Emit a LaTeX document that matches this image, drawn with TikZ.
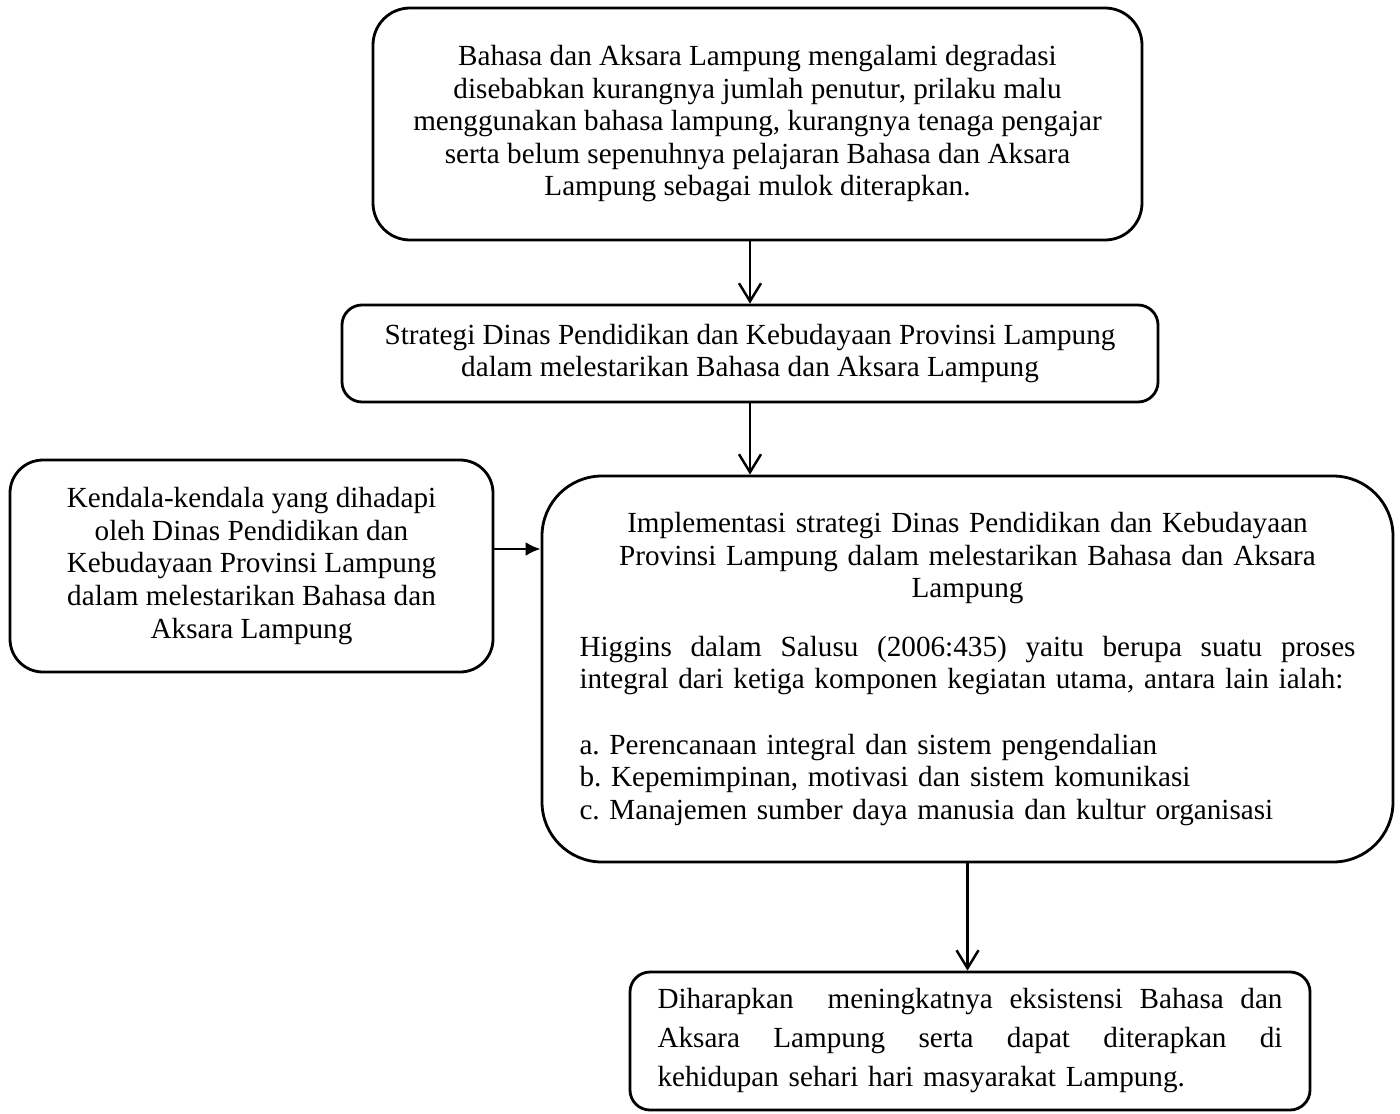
\documentclass[tikz,border=0pt]{standalone}
\usepackage{fontspec}
\setmainfont{Liberation Serif}
\usetikzlibrary{arrows.meta,positioning}

\begin{document}
\begin{tikzpicture}[font=\fontsize{8.3}{9.25}\selectfont\frenchspacing,
  box/.style={draw, line width=0.8pt, inner sep=0pt},
  flow/.style={-{Straight Barb[length=1.8mm,width=2.2mm]}, line width=0.7pt},
  feed/.style={-{Latex[length=1.5mm,width=1.4mm]}, line width=0.7pt}]
\useasboundingbox (0,0) rectangle (14,11.13);

% Problem statement
\node[box, align=center, rounded corners=3.7mm, minimum width=7.69cm, minimum height=2.32cm] (problem) at (7.575,9.89)
  {Bahasa dan Aksara Lampung mengalami degradasi\\ disebabkan kurangnya jumlah penutur, prilaku malu\\
   menggunakan bahasa lampung, kurangnya tenaga pengajar\\ serta belum sepenuhnya pelajaran Bahasa dan Aksara\\
   Lampung sebagai mulok diterapkan.};

% Strategy
\node[box, align=center, rounded corners=2mm, minimum width=8.16cm, minimum height=0.97cm] (strategy) at (7.50,7.595)
  {Strategi Dinas Pendidikan dan Kebudayaan Provinsi Lampung\\ dalam melestarikan Bahasa dan Aksara Lampung};

% Obstacles
\node[box, align=center, rounded corners=3.3mm, minimum width=4.83cm, minimum height=2.12cm] (obstacle) at (2.515,5.47)
  {Kendala-kendala yang dihadapi\\ oleh Dinas Pendidikan dan\\ Kebudayaan Provinsi Lampung\\
   dalam melestarikan Bahasa dan\\ Aksara Lampung};

% Implementation
\node[box, rounded corners=6mm, minimum width=8.51cm, minimum height=3.86cm, text width=7.76cm] (implement) at (9.675,4.44)
  {\parindent=0pt
   {\centering Implementasi strategi Dinas Pendidikan dan Kebudayaan\\ Provinsi Lampung dalam melestarikan Bahasa dan Aksara\\ Lampung\par}
   \vspace{2.6mm}
   \hbox to 7.76cm{Higgins\hfill dalam\hfill Salusu\hfill (2006:435)\hfill yaitu\hfill berupa\hfill suatu\hfill proses}
   integral dari ketiga komponen kegiatan utama, antara lain ialah:\par
   \vspace{3.3mm}
   a. Perencanaan integral dan sistem pengendalian\\
   b. Kepemimpinan, motivasi dan sistem komunikasi\\
   c. Manajemen sumber daya manusia dan kultur organisasi\par};

% Expected outcome
\node[box, rounded corners=2mm, minimum width=6.80cm, minimum height=1.38cm, text width=6.25cm] (outcome) at (9.70,0.72)
  {\fontsize{8.3}{11.1}\selectfont\parindent=0pt
   \hbox to 6.25cm{Diharapkan\hspace{0.6em}\hfill meningkatnya\hfill eksistensi\hfill Bahasa\hfill dan}
   \hbox to 6.25cm{Aksara\hfill Lampung\hfill serta\hfill dapat\hfill diterapkan\hfill di}
   kehidupan sehari hari masyarakat Lampung.\par};

% Connectors
\draw[flow] (problem.south -| strategy.north) -- (strategy.north);
\draw[flow] (strategy.south) -- (strategy.south |- implement.north);
\draw[flow] (implement.south) -- (implement.south |- outcome.north);
\draw[feed] ([yshift=1.7mm]obstacle.east) -- ([yshift=1.7mm]obstacle.east -| implement.west);

\end{tikzpicture}
\end{document}
